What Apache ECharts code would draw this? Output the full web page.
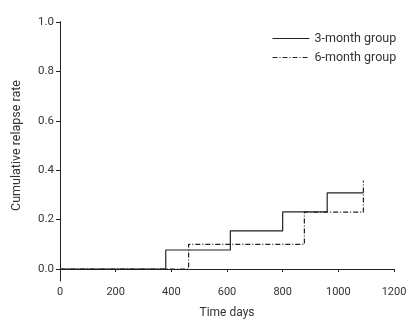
<!DOCTYPE html>
<html>
<head>
<meta charset="utf-8">
<script src="https://cdn.jsdelivr.net/npm/echarts@6/dist/echarts.min.js"></script>
<style>
  html, body { margin: 0; padding: 0; background: #fff; }
  #chart { width: 415px; height: 325px; }
</style>
</head>
<body>
<div id="chart"></div>
<script>
// Kaplan–Meier style cumulative relapse curves
const seriesNames = ['3-month group', '6-month group'];
const threeMonthDays = [0, 380, 612, 800, 960, 1090];
const threeMonthRate = [0, 0.077, 0.154, 0.231, 0.308, 0.308];
const sixMonthDays = [0, 462, 878, 1090];
const sixMonthRate = [0, 0.10, 0.23, 0.357];
const xTicks = [0, 200, 400, 600, 800, 1000, 1200];
const yTicks = [0, 0.2, 0.4, 0.6, 0.8, 1.0];

const pairs = (xs, ys) => xs.map((x, i) => [x, ys[i]]);

const ink = '#222';
const textColor = '#333';
const font = 'Roboto';

const chart = echarts.init(document.getElementById('chart'), null, { renderer: 'canvas' });
chart.setOption({
  animation: false,
  backgroundColor: '#fff',
  textStyle: { fontFamily: font },
  grid: [
    // plotting area (0 to 1)
    { left: 60, right: 21, top: 22, bottom: 56, containLabel: false },
    // frame that carries the y-axis line down to the offset x-axis
    { left: 60, right: 21, top: 22, bottom: 44, containLabel: false }
  ],
  legend: {
    orient: 'vertical',
    left: 272,
    top: 32,
    padding: 0,
    itemWidth: 37,
    itemHeight: 12,
    itemGap: 6,
    itemStyle: { opacity: 0 },
    lineStyle: { width: 1 },
    textStyle: { fontSize: 12.5, color: textColor, fontFamily: font },
    data: seriesNames
  },
  xAxis: [
    {
      gridIndex: 0,
      type: 'value',
      min: xTicks[0],
      max: xTicks[xTicks.length - 1],
      interval: 200,
      offset: 12,
      name: 'Time days',
      nameLocation: 'middle',
      nameGap: 26,
      nameTextStyle: { fontSize: 12, color: textColor },
      axisLine: { show: true, lineStyle: { color: ink, width: 1 } },
      axisTick: { show: true, length: 3, lineStyle: { color: ink } },
      axisLabel: { fontSize: 11, color: textColor, margin: 6, formatter: v => String(v) },
      splitLine: { show: false }
    },
    { gridIndex: 1, type: 'value', min: 0, max: 1, show: false }
  ],
  yAxis: [
    {
      gridIndex: 0,
      type: 'value',
      min: yTicks[0],
      max: yTicks[yTicks.length - 1],
      interval: 0.2,
      name: 'Cumulative relapse rate',
      nameLocation: 'middle',
      nameGap: 37,
      nameTextStyle: { fontSize: 12.5, color: textColor },
      axisLine: { show: true, lineStyle: { color: ink, width: 1 } },
      axisTick: { show: true, length: 4, lineStyle: { color: ink, width: 1 } },
      axisLabel: { fontSize: 11.5, color: textColor, margin: 6, formatter: v => v.toFixed(1) },
      splitLine: { show: false }
    },
    {
      gridIndex: 1,
      type: 'value',
      min: 0,
      max: 1,
      axisLine: { show: true, lineStyle: { color: ink, width: 1 } },
      axisTick: { show: false },
      axisLabel: { show: false },
      splitLine: { show: false }
    }
  ],
  series: [
    {
      name: seriesNames[0],
      type: 'line',
      step: 'end',
      symbol: 'none',
      xAxisIndex: 0,
      yAxisIndex: 0,
      data: pairs(threeMonthDays, threeMonthRate),
      lineStyle: { color: ink, width: 1.2, type: 'solid' },
      itemStyle: { color: ink },
      z: 3
    },
    {
      name: seriesNames[1],
      type: 'line',
      step: 'end',
      symbol: 'none',
      xAxisIndex: 0,
      yAxisIndex: 0,
      data: pairs(sixMonthDays, sixMonthRate),
      lineStyle: { color: ink, width: 1.2, type: [5, 2, 1, 2] },
      itemStyle: { color: ink },
      z: 2
    }
  ]
});
</script>
</body>
</html>
